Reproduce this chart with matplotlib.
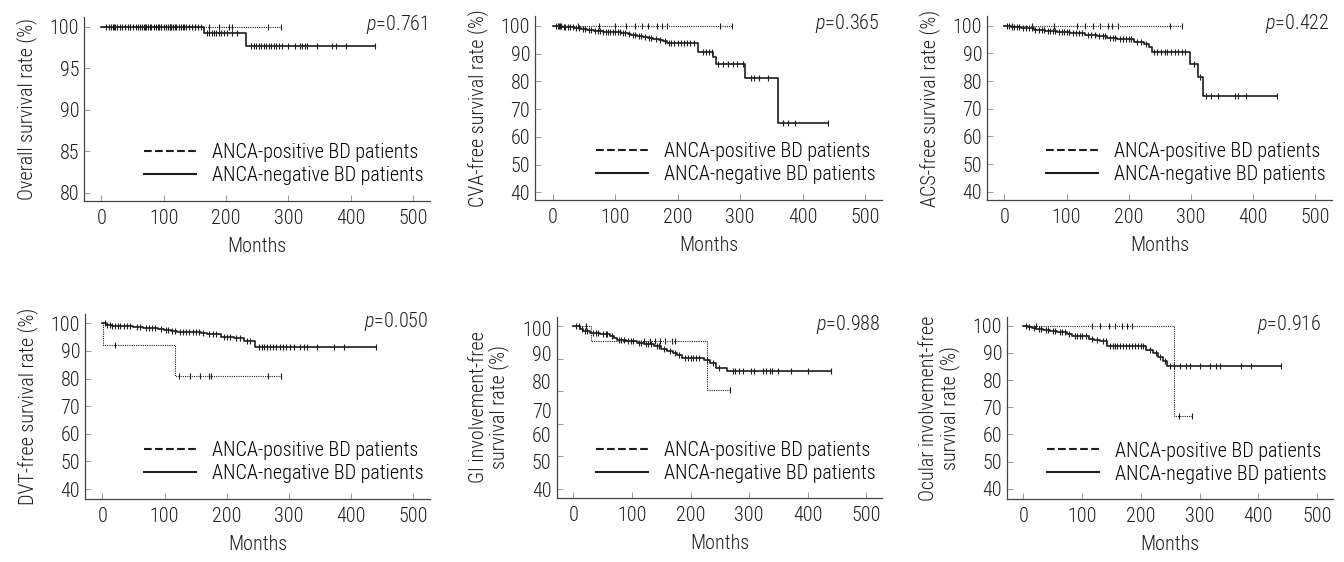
import numpy as np
import matplotlib
matplotlib.use("Agg")
import matplotlib.pyplot as plt
from matplotlib.lines import Line2D

plt.rcParams['font.family'] = ['Roboto Condensed', 'DejaVu Sans']
plt.rcParams['font.weight'] = 'light'
plt.rcParams['axes.labelweight'] = 'light'
plt.rcParams['font.size'] = 14.5
plt.rcParams['mathtext.fontset'] = 'custom'
plt.rcParams['mathtext.it'] = 'Roboto Condensed:italic:light'
plt.rcParams['mathtext.rm'] = 'Roboto Condensed:light'

INK = '#1e1e1e'
AX_GRAY = '#444444'
FS = 14.5

legend_labels = ["ANCA-positive BD patients", "ANCA-negative BD patients"]
x_ticks = [0, 100, 200, 300, 400, 500]

# ---- panel 1: overall survival
os_pos_t, os_pos_s = [], []
os_pos_cens = [20, 45, 70, 95, 110, 130, 150, 173, 189, 205, 210, 267, 288]
os_neg_t = [165, 232]
os_neg_s = [99.28, 97.7]
os_neg_cens = [8, 12, 15, 18, 22, 25, 30, 33, 38, 42, 45, 50, 55, 58, 62, 65, 68, 72,
               75, 78, 80, 84, 88, 90, 93, 96, 100, 103, 106, 110, 112, 115, 118, 120,
               124, 128, 132, 135, 140, 145, 150, 155, 160, 170, 173, 177, 180, 184,
               188, 192, 197, 202, 210, 218, 240, 244, 248, 252, 256, 260, 264, 268,
               272, 276, 280, 285, 290, 300, 310, 318, 322, 326, 330, 345, 370, 377,
               392, 439]

# ---- panel 2: CVA
cva_pos_t, cva_pos_s = [], []
cva_pos_cens = [10, 40, 75, 100, 118, 132, 143, 153, 167, 175, 183, 268, 287]
cva_neg_t = [15, 25, 35, 45, 55, 66, 80, 93, 110, 120, 125, 135, 145, 152, 161, 170,
             177, 183, 233, 257, 262, 308, 360]
cva_neg_s = [99.7, 99.4, 99.1, 98.8, 98.5, 98.2, 97.9, 97.6, 97.4, 97.2, 96.8, 96.4,
             96.0, 95.7, 95.4, 95.0, 94.6, 93.7, 90.6, 88.9, 86.2, 81.1, 64.9]
cva_neg_cens = [5, 8, 12, 14, 18, 20, 24, 28, 32, 38, 42, 48, 52, 58, 62, 68, 72, 76,
                80, 85, 88, 92, 96, 100, 104, 108, 112, 116, 122, 128, 132, 138, 142,
                148, 155, 158, 165, 172, 180, 186, 190, 195, 200, 205, 210, 215, 220,
                226, 240, 245, 250, 255, 265, 273, 281, 289, 295, 305, 318, 323, 331,
                344, 369, 377, 388, 440]

# ---- panel 3: ACS
acs_pos_t, acs_pos_s = [], []
acs_pos_cens = [12, 45, 80, 116, 130, 143, 154, 167, 173, 183, 266, 285]
acs_neg_t = [10, 26, 47, 66, 85, 106, 130, 149, 165, 181, 208, 225, 232, 237, 298, 311, 320]
acs_neg_s = [99.6, 99.0, 98.4, 98.1, 97.7, 97.2, 96.8, 96.3, 95.7, 95.1, 94.0, 93.3,
             92.4, 90.6, 86.0, 81.4, 74.7]
acs_neg_cens = [4, 8, 12, 16, 20, 24, 30, 35, 40, 45, 50, 55, 60, 64, 70, 74, 78, 82,
                88, 92, 96, 100, 104, 110, 115, 120, 125, 134, 140, 145, 152, 158, 162,
                170, 175, 178, 186, 190, 195, 200, 204, 214, 220, 228, 240, 245, 252,
                258, 262, 268, 275, 280, 285, 290, 305, 315, 325, 333, 344, 371, 376,
                388, 438]

# ---- panel 4: DVT
dvt_pos_t = [1, 117]
dvt_pos_s = [92.3, 80.8]
dvt_pos_cens = [21, 123, 141, 157, 171, 175, 267, 288]
dvt_neg_t = [5, 15, 30, 50, 65, 77, 90, 99, 110, 120, 158, 168, 190, 211, 227, 246]
dvt_neg_s = [99.5, 99.2, 99.0, 98.8, 98.5, 98.2, 97.9, 97.6, 97.3, 97.0, 96.6, 96.1,
             95.2, 94.6, 93.6, 91.5]
dvt_neg_cens = [4, 8, 12, 16, 20, 25, 28, 35, 40, 45, 55, 60, 70, 75, 80, 85, 95, 102,
                106, 112, 116, 125, 130, 135, 140, 145, 150, 155, 162, 172, 178, 183,
                195, 200, 205, 215, 222, 232, 238, 252, 256, 260, 265, 270, 275, 280,
                285, 290, 296, 302, 308, 318, 324, 329, 345, 372, 388, 440]

# ---- panel 5: GI involvement
gi_pos_t = [30, 228]
gi_pos_s = [95.3, 80.3]
gi_pos_cens = [22, 120, 131, 140, 148, 157, 169, 174, 268]
gi_neg_t = [11, 17, 29, 46, 63, 70, 74, 90, 108, 120, 137, 150, 160, 170, 177, 186,
            223, 234, 243, 263]
gi_neg_s = [99.2, 98.4, 97.9, 97.5, 96.9, 96.2, 95.6, 95.3, 94.9, 94.4, 93.8, 93.0,
            92.3, 91.6, 91.0, 90.3, 89.5, 88.8, 87.2, 86.2]
gi_neg_cens = [5, 9, 14, 20, 24, 33, 38, 42, 50, 55, 58, 66, 78, 82, 86, 94, 98, 102,
               112, 116, 124, 128, 132, 142, 146, 155, 165, 174, 181, 190, 195, 200,
               205, 210, 215, 228, 238, 248, 272, 276, 283, 289, 303, 309, 323, 329,
               335, 340, 349, 371, 400, 440]

# ---- panel 6: ocular involvement
oc_pos_t = [256]
oc_pos_s = [66.7]
oc_pos_cens = [22, 117, 131, 145, 156, 168, 176, 185, 265, 287]
oc_neg_t = [8, 14, 22, 34, 45, 57, 74, 83, 111, 120, 131, 143, 209, 220, 229, 237, 245]
oc_neg_s = [99.6, 99.1, 98.8, 98.3, 97.9, 97.5, 96.9, 96.3, 95.1, 94.7, 94.2, 92.4,
            90.9, 90.0, 88.5, 86.9, 85.0]
oc_neg_cens = [5, 10, 18, 26, 30, 38, 42, 50, 54, 62, 66, 70, 78, 88, 92, 96, 100, 106,
               116, 125, 136, 140, 148, 152, 156, 160, 165, 170, 175, 180, 185, 190,
               195, 200, 204, 215, 225, 233, 241, 250, 256, 267, 276, 284, 301, 318,
               327, 335, 370, 387, 438]

ylabels = ["Overall survival rate (%)", "CVA-free survival rate (%)",
           "ACS-free survival rate (%)", "DVT-free survival rate (%)",
           "GI involvement-free\nsurvival rate (%)",
           "Ocular involvement-free\nsurvival rate (%)"]
p_values = ["0.761", "0.365", "0.422", "0.050", "0.988", "0.916"]

panels = [
    (os_pos_t, os_pos_s, os_pos_cens, os_neg_t, os_neg_s, os_neg_cens),
    (cva_pos_t, cva_pos_s, cva_pos_cens, cva_neg_t, cva_neg_s, cva_neg_cens),
    (acs_pos_t, acs_pos_s, acs_pos_cens, acs_neg_t, acs_neg_s, acs_neg_cens),
    (dvt_pos_t, dvt_pos_s, dvt_pos_cens, dvt_neg_t, dvt_neg_s, dvt_neg_cens),
    (gi_pos_t, gi_pos_s, gi_pos_cens, gi_neg_t, gi_neg_s, gi_neg_cens),
    (oc_pos_t, oc_pos_s, oc_pos_cens, oc_neg_t, oc_neg_s, oc_neg_cens),
]

# layout in pixels: left, right, top, bottom
W, H = 1344, 562
boxes = [(84, 430, 17, 201), (535, 882, 16, 200), (987, 1332, 16, 200),
         (85, 430, 314, 499), (557, 882, 317, 498), (1007, 1333, 317, 499)]
ylims = [(79.0, 101.2), (37.3, 103.5), (37.0, 103.5),
         (36.4, 103.4), (47.2, 102.8), (36.2, 103.2)]
p_x = [0.992, 0.992, 0.992, 0.995, 0.995, 0.965]


def km_curve(ax, t, s, cens, style, lw):
    end = max(cens)
    xs = [0] + list(t) + [end]
    ys = [100] + list(s) + [(list(s) or [100])[-1]]
    ax.step(xs, ys, where='post', color=INK, linestyle=style, lw=lw)
    levels = np.array([100] + list(s))
    idx = np.searchsorted(np.array(t, dtype=float), np.array(cens, dtype=float), side='right')
    ax.plot(cens, levels[idx], linestyle='none', marker='|', ms=4, mew=0.8, color=INK)


fig = plt.figure(figsize=(W / 100, H / 100), dpi=100)

for i, (pt, ps, pc, nt, ns, nc) in enumerate(panels):
    l, r, t, b = boxes[i]
    ax = fig.add_axes([l / W, 1 - b / H, (r - l) / W, (b - t) / H])
    km_curve(ax, pt, ps, pc, (0, (1, 1)), 0.8)
    km_curve(ax, nt, ns, nc, '-', 1.2)

    ax.set_xlim(-28, 527)
    ax.set_ylim(*ylims[i])
    ax.set_xticks(x_ticks)
    if i == 0:
        ax.set_yticks([80, 85, 90, 95, 100])
    elif i == 4:
        # tick marks and labels sit at different heights in this panel
        ax.set_yticks([100, 90, 80, 70, 60, 50])
        ax.set_yticklabels([])
        ax.set_yticks([99.2, 91.5, 82.9, 74.2, 66.6, 58.4, 49.7], minor=True)
        ax.set_yticklabels(["100", "90", "80", "70", "60", "50", "40"], minor=True)
        ax.tick_params(axis='y', which='minor', length=0, pad=4)
    else:
        ax.set_yticks([40, 50, 60, 70, 80, 90, 100])

    for side in ['top', 'right']:
        ax.spines[side].set_visible(False)
    for side in ['left', 'bottom']:
        ax.spines[side].set_color(AX_GRAY)
        ax.spines[side].set_linewidth(0.9)
    ax.tick_params(which='major', direction='in', length=4, width=0.6, color='#888888',
                   labelcolor=INK, labelsize=FS)
    ax.tick_params(axis='y', which='minor', labelcolor=INK, labelsize=FS)
    ax.tick_params(axis='x', pad=6)

    ax.set_xlabel("Months", fontsize=FS, color=INK, labelpad=6)
    ax.set_ylabel(ylabels[i], fontsize=FS, color=INK, labelpad=9, linespacing=1.05)

    ax.text(p_x[i], 0.96, r"$p$=" + p_values[i], transform=ax.transAxes,
            ha='right', va='center', fontsize=FS, color=INK)

    handles = [Line2D([], [], color=INK, ls='--', lw=1.5),
               Line2D([], [], color=INK, ls='-', lw=1.5)]
    ax.legend(handles, legend_labels, loc='lower right', bbox_to_anchor=(0.982, 0.085),
              frameon=False, handlelength=2.6, handletextpad=0.8, labelspacing=0.2,
              borderpad=0, borderaxespad=0, fontsize=FS)

fig.savefig("out.png", dpi=100)
